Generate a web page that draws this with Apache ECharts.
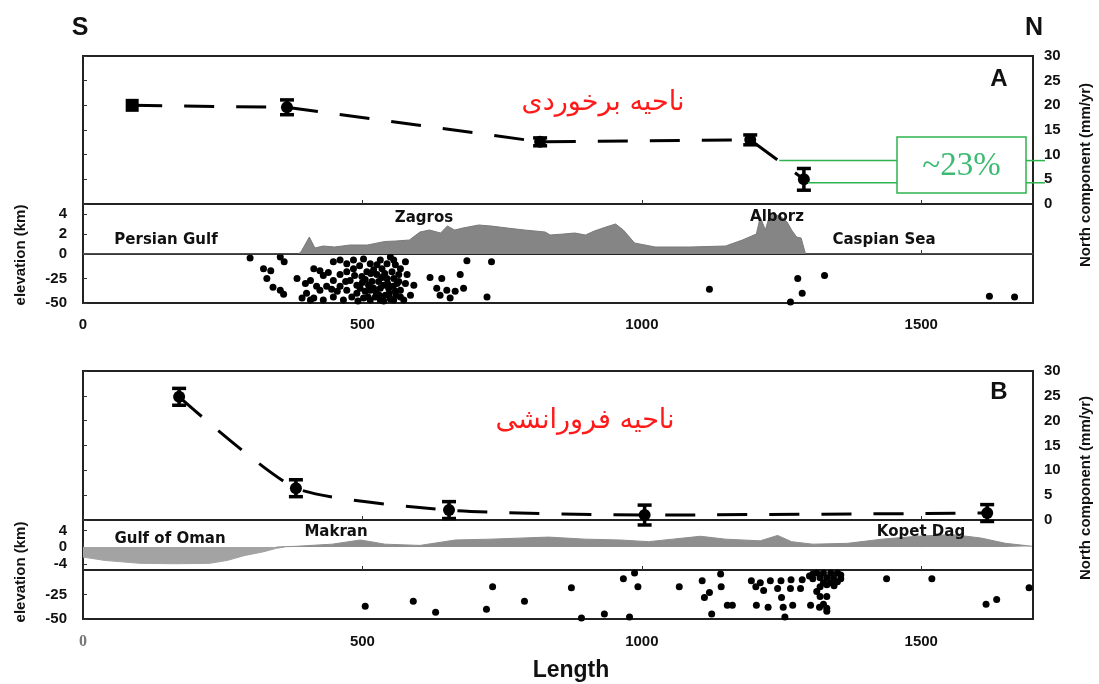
<!DOCTYPE html>
<html>
<head>
<meta charset="utf-8">
<title>North component profiles</title>
<script src="https://cdn.jsdelivr.net/npm/echarts@6/dist/echarts.min.js"></script>
<style>
  html, body { margin: 0; padding: 0; background: #fff; }
  #chart { width: 1099px; height: 684px; }
</style>
</head>
<body>
<div id="chart"></div>
<script>
// profile length (km)
const lengthTicks = [0, 500, 1000, 1500];

// panel A - collision zone: GPS north component (mm/yr)
const velAx = [88, 365, 818, 1194, 1290];
const velAv = [20.0, 19.6, 12.6, 13.0, 5.0];
const velAe = [0.5, 1.5, 0.8, 1.0, 2.2];

// panel B - subduction zone
const velBx = [172, 381, 655, 1005, 1618];
const velBv = [24.8, 6.4, 2.0, 1.0, 1.4];
const velBe = [1.7, 1.7, 1.7, 2.0, 1.7];

// topography along profile A (km)
const elevA = [
  [0, 0], [385, 0], [390, 0.2], [405, 1.7], [415, 0.6], [430, 0.8], [450, 0.7], [478, 0.9],
  [509, 0.9], [540, 1.25], [560, 1.3], [584, 1.4], [603, 2.2], [620, 2.4], [640, 2.1],
  [652, 2.8], [665, 2.4], [680, 2.6], [708, 2.9], [730, 2.8], [759, 2.6], [790, 2.4],
  [827, 2.2], [836, 1.9], [860, 2.0], [880, 2.1], [899, 1.9], [915, 2.3], [936, 2.7],
  [953, 3.0], [967, 2.4], [987, 1.1], [1024, 0.7], [1087, 0.7], [1150, 0.8], [1180, 1.4],
  [1205, 2.0], [1212, 3.7], [1221, 2.4], [1230, 4.1], [1250, 3.7], [1260, 3.2],
  [1268, 2.4], [1277, 1.7], [1285, 1.6], [1293, 0], [1700, 0]
];

// bathymetry and topography along profile B (km)
const seaB = [
  [0, -2.4], [39, -3.2], [102, -3.9], [165, -4.0], [227, -3.9], [258, -3.2],
  [290, -2.0], [321, -1.2], [346, -0.3], [360, 0]
];
const landB = [
  [346, 0], [383, 0.2], [446, 0.7], [496, 1.7], [515, 1.3], [540, 0.7], [603, 0.4],
  [666, 1.7], [729, 1.9], [790, 2.2], [833, 2.4], [899, 1.9], [962, 1.7], [1012, 1.3],
  [1055, 1.9], [1105, 2.6], [1150, 1.9], [1212, 1.5], [1243, 2.8], [1268, 1.3],
  [1306, 0.7], [1368, 0.9], [1430, 1.9], [1493, 2.6], [1555, 3.0], [1606, 2.2],
  [1651, 0.9], [1698, 0.2]
];

// earthquakes: [distance, depth km]
const quakesA = [
  [299, -4], [353, -3], [360, -8], [323, -15], [336, -17], [329, -25], [340, -34], [353, -37],
  [359, -41], [383, -25], [398, -30], [407, -27], [413, -15], [424, -17], [439, -19], [448, -8],
  [460, -6], [472, -10], [484, -6], [502, -5], [514, -10], [532, -6], [550, -3], [559, -11],
  [577, -8], [687, -7], [621, -24], [642, -25], [675, -21], [633, -35], [651, -37], [666, -38],
  [681, -35], [639, -42], [657, -45], [592, -32], [586, -42], [574, -47], [400, -40], [413, -45],
  [424, -37], [436, -33], [448, -27], [460, -21], [472, -18], [484, -15], [478, -27], [490, -32],
  [499, -23], [508, -18], [517, -28], [526, -21], [535, -15], [544, -25], [553, -18], [562, -30],
  [490, -40], [502, -45], [514, -37], [523, -44], [532, -35], [541, -42], [550, -46], [559, -38],
  [568, -44], [481, -44], [496, -35], [511, -32], [520, -35], [529, -28], [538, -32], [547, -35],
  [556, -25], [565, -21], [514, -47], [532, -47], [556, -47], [568, -37], [466, -47], [448, -44],
  [430, -47], [407, -47], [460, -33], [472, -37], [544, -10], [526, -11], [556, -6], [568, -15],
  [580, -21], [577, -30], [495, -12], [505, -26], [515, -20], [525, -40], [535, -24], [545, -30],
  [555, -33], [505, -38], [520, -16], [540, -20], [530, -42], [510, -44], [500, -29], [548, -40],
  [560, -42], [486, -22], [492, -48], [538, -48], [565, -28], [470, -28], [455, -38], [445, -36],
  [418, -33], [392, -45], [430, -22],
  [731, -8], [723, -44], [1121, -36], [1279, -25], [1327, -22], [1287, -40], [1266, -49],
  [1622, -43], [1667, -44]
];
const quakesB = [
  [505, -37], [591, -32], [631, -43], [733, -17], [722, -40], [790, -32], [874, -18], [967, -9],
  [987, -3], [993, -17], [933, -45], [892, -49], [978, -48], [1067, -17], [1108, -11], [1112, -28],
  [1121, -23], [1142, -17], [1141, -4], [1125, -45], [1153, -36], [1162, -36], [1196, -11],
  [1212, -13], [1230, -11], [1249, -11], [1267, -10], [1287, -10], [1306, -9], [1204, -17],
  [1218, -21], [1243, -19], [1266, -19], [1284, -19], [1313, -22], [1319, -27], [1331, -27],
  [1205, -36], [1226, -38], [1250, -28], [1253, -38], [1270, -36], [1302, -36], [1318, -38],
  [1331, -39], [1331, -42], [1325, -35], [1256, -48], [1438, -9], [1519, -9], [1616, -35],
  [1635, -30], [1693, -18],
  [1313, -3], [1325, -3], [1338, -3], [1350, -3], [1356, -5], [1319, -8], [1331, -8], [1343, -8],
  [1356, -9], [1325, -13], [1338, -13], [1350, -12], [1319, -17], [1331, -15], [1344, -16],
  [1306, -4], [1300, -6]
];

// the ~23% callout: velocity levels it points at
const calloutLevels = [8.8, 4.3];
const calloutFrom = [1246, 1297];

const INK = '#111';
const BOLD = 'bold 15px "Liberation Sans", Arial, sans-serif';
const frame = { show: true, borderColor: '#222', borderWidth: 2, backgroundColor: 'transparent' };

const grids = [
  { top: 56, height: 148 }, { top: 204, height: 50 }, { top: 254, height: 49 },
  { top: 371, height: 149 }, { top: 520, height: 50 }, { top: 570, height: 49 }
].map(g => Object.assign({ left: 83, right: 66, outerBoundsMode: 'none' }, frame, g));

const xAxes = grids.map((g, i) => ({
  type: 'value', gridIndex: i, min: 0, max: 1700,
  axisLine: { show: false },
  splitLine: { show: false },
  axisTick: { show: true, inside: true, length: 4, lineStyle: { color: '#333' }, customValues: lengthTicks },
  axisLabel: {
    show: i === 2 || i === 5,
    customValues: lengthTicks,
    margin: i === 2 ? 14 : 15,
    color: INK, fontWeight: 'bold', fontSize: 15, fontFamily: '"Liberation Sans", Arial, sans-serif',
    formatter: v => (i === 5 && v === 0) ? '{o|0}' : String(v),
    rich: { o: { fontFamily: '"Liberation Serif", serif', fontSize: 16, color: '#777' } }
  }
}));

function velRight(gi) {
  return {
    type: 'value', gridIndex: gi, position: 'right', min: 0, max: 30, interval: 5,
    axisLine: { show: false }, splitLine: { show: false },
    axisTick: { show: true, length: 4, lineStyle: { color: '#333' } },
    axisLabel: { margin: 11, color: INK, fontWeight: 'bold', fontSize: 15, fontFamily: '"Liberation Sans", Arial, sans-serif' }
  };
}
function velLeft(gi) {
  return {
    type: 'value', gridIndex: gi, position: 'left', min: 0, max: 30, interval: 5,
    axisLine: { show: false }, splitLine: { show: false },
    axisTick: { show: true, inside: true, length: 4, lineStyle: { color: '#333' } },
    axisLabel: { show: false }
  };
}
function leftAxis(gi, min, max, vals) {
  return {
    type: 'value', gridIndex: gi, position: 'left', min: min, max: max,
    axisLine: { show: false }, splitLine: { show: false },
    axisTick: { show: true, inside: true, length: 4, customValues: vals, lineStyle: { color: '#333' } },
    axisLabel: { customValues: vals, margin: 16, color: INK, fontWeight: 'bold', fontSize: 15, fontFamily: '"Liberation Sans", Arial, sans-serif' }
  };
}

const yAxes = [
  velRight(0), velLeft(0),
  leftAxis(1, 0, 5, [0, 2, 4]),
  leftAxis(2, -50, 0, [-25, -50]),
  velRight(3), velLeft(3),
  leftAxis(4, -5.5, 6.5, [-4, 0, 4]),
  leftAxis(5, -50, 0, [-25, -50])
];

function errorBars(params, api) {
  const x = api.value(0), y = api.value(1), e = api.value(2);
  const a = api.coord([x, y + e]);
  const b = api.coord([x, y - e]);
  const w = 7;
  const st = { stroke: '#000', lineWidth: 3.5 };
  return {
    type: 'group',
    children: [
      { type: 'line', shape: { x1: a[0], y1: a[1], x2: b[0], y2: b[1] }, style: st },
      { type: 'line', shape: { x1: a[0] - w, y1: a[1], x2: a[0] + w, y2: a[1] }, style: st },
      { type: 'line', shape: { x1: b[0] - w, y1: b[1], x2: b[0] + w, y2: b[1] }, style: st }
    ]
  };
}

const zip2 = (xs, ys) => xs.map((x, i) => [x, ys[i]]);
const zip3 = (xs, ys, es) => xs.map((x, i) => [x, ys[i], es[i]]);
const solid = { color: '#000', opacity: 1 };

const series = [
  // panel A
  { type: 'line', xAxisIndex: 0, yAxisIndex: 0, data: zip2(velAx, velAv), symbol: 'none',
    lineStyle: { color: '#000', width: 3, type: [30, 22] }, z: 3 },
  { type: 'custom', xAxisIndex: 0, yAxisIndex: 0, data: zip3(velAx, velAv, velAe).slice(1),
    renderItem: errorBars, clip: false, z: 4 },
  { type: 'scatter', xAxisIndex: 0, yAxisIndex: 0, data: zip2(velAx, velAv).slice(0, 1),
    symbol: 'rect', symbolSize: 13, itemStyle: solid, z: 5 },
  { type: 'scatter', xAxisIndex: 0, yAxisIndex: 0, data: zip2(velAx, velAv).slice(1),
    symbol: 'circle', symbolSize: 12, itemStyle: solid, z: 5 },
  { type: 'line', xAxisIndex: 1, yAxisIndex: 2, data: elevA, symbol: 'none',
    lineStyle: { color: '#7a7a7a', width: 1 }, areaStyle: { color: '#858585', opacity: 1 } },
  { type: 'scatter', xAxisIndex: 2, yAxisIndex: 3, data: quakesA, symbolSize: 7,
    itemStyle: solid },

  // panel B
  { type: 'line', xAxisIndex: 3, yAxisIndex: 4, data: zip2(velBx, velBv), symbol: 'none', smooth: 0.2,
    lineStyle: { color: '#000', width: 3, type: [30, 22] }, z: 3 },
  { type: 'custom', xAxisIndex: 3, yAxisIndex: 4, data: zip3(velBx, velBv, velBe),
    renderItem: errorBars, clip: false, z: 4 },
  { type: 'scatter', xAxisIndex: 3, yAxisIndex: 4, data: zip2(velBx, velBv),
    symbol: 'circle', symbolSize: 12, itemStyle: solid, clip: false, z: 5 },
  { type: 'line', xAxisIndex: 4, yAxisIndex: 6, data: seaB, symbol: 'none',
    lineStyle: { color: '#a3a3a3', width: 1 }, areaStyle: { color: '#a3a3a3', opacity: 1 } },
  { type: 'line', xAxisIndex: 4, yAxisIndex: 6, data: landB, symbol: 'none',
    lineStyle: { color: '#8e8e8e', width: 1 }, areaStyle: { color: '#8e8e8e', opacity: 1 } },
  { type: 'scatter', xAxisIndex: 5, yAxisIndex: 7, data: quakesB, symbolSize: 7,
    itemStyle: solid }
];

function label(t, x, y, font, extra) {
  return Object.assign({
    type: 'text', x: x, y: y, z: 10,
    style: { text: t, font: font, fill: INK, align: 'center', verticalAlign: 'middle', textAlign: 'center', textVerticalAlign: 'middle' }
  }, extra || {});
}
const PLACE = 'bold 15px "DejaVu Sans", sans-serif';
const FA = '27px "DejaVu Sans", sans-serif';

const texts = [
  label('S', 80, 28, 'bold 25px "Liberation Sans", Arial, sans-serif'),
  label('N', 1034, 28, 'bold 25px "Liberation Sans", Arial, sans-serif'),
  label('A', 999, 79, 'bold 24px "Liberation Sans", Arial, sans-serif'),
  label('B', 999, 392, 'bold 24px "Liberation Sans", Arial, sans-serif'),
  label('Length', 571, 671, 'bold 23px "Liberation Sans", Arial, sans-serif'),
  label('elevation (km)', 21, 255, BOLD, { rotation: Math.PI / 2 }),
  label('elevation (km)', 21, 572, BOLD, { rotation: Math.PI / 2 }),
  label('North component (mm/yr)', 1086, 175, BOLD, { rotation: Math.PI / 2 }),
  label('North component (mm/yr)', 1086, 488, BOLD, { rotation: Math.PI / 2 }),
  label('Zagros', 424, 218, PLACE),
  label('Persian Gulf', 166, 240, PLACE),
  label('Alborz', 777, 217, PLACE),
  label('Caspian Sea', 884, 240, PLACE),
  label('Gulf of Oman', 170, 539, PLACE),
  label('Makran', 336, 532, PLACE),
  label('Kopet Dag', 921, 532, PLACE),
  label('ناحیه برخوردی', 603, 103, FA, { style: { text: 'ناحیه برخوردی', font: FA, fill: '#ff1a1a', align: 'center', verticalAlign: 'middle' } }),
  label('ناحیه فرورانشی', 585, 421, FA, { style: { text: 'ناحیه فرورانشی', font: FA, fill: '#ff1a1a', align: 'center', verticalAlign: 'middle' } })
];

const chart = echarts.init(document.getElementById('chart'), null, { renderer: 'canvas' });
chart.setOption({
  animation: false,
  backgroundColor: '#fff',
  grid: grids,
  xAxis: xAxes,
  yAxis: yAxes,
  series: series,
  graphic: texts
});

// green ~23% callout, anchored to panel A velocity levels
const GREEN = '#2fb34f';
const box = { x1: 897, y1: 137, x2: 1026, y2: 193 };
const callout = [];
calloutLevels.forEach((lv, i) => {
  const p = chart.convertToPixel({ xAxisIndex: 0, yAxisIndex: 0 }, [calloutFrom[i], lv]);
  callout.push({ type: 'line', z: 9, shape: { x1: p[0], y1: p[1], x2: box.x1, y2: p[1] }, style: { stroke: GREEN, lineWidth: 1.5 } });
  callout.push({ type: 'line', z: 9, shape: { x1: box.x2, y1: p[1], x2: 1045, y2: p[1] }, style: { stroke: GREEN, lineWidth: 1.5 } });
});
callout.push({ type: 'rect', z: 9, shape: { x: box.x1, y: box.y1, width: box.x2 - box.x1, height: box.y2 - box.y1 },
  style: { fill: '#fff', stroke: GREEN, lineWidth: 1.5 } });
callout.push({ type: 'text', z: 10, x: (box.x1 + box.x2) / 2, y: (box.y1 + box.y2) / 2 + 1,
  style: { text: '~23%', font: '33px "Liberation Serif", "Times New Roman", serif', fill: '#3dbb73', align: 'center', verticalAlign: 'middle' } });

chart.setOption({ graphic: texts.concat(callout) });
</script>
</body>
</html>
